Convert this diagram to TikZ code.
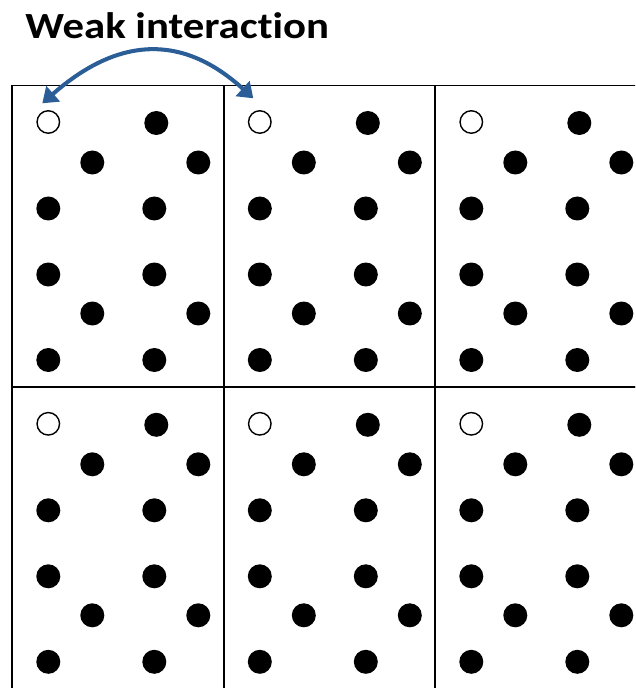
\documentclass[tikz,border=0pt]{standalone}
\usepackage{fontspec}
\setmainfont{Carlito}
\newfontfamily\titlefont{Carlito}[FakeStretch=1.16, Ligatures=NoCommon]
\usepackage{tikz}
\usetikzlibrary{arrows.meta}
\usepackage{xcolor}
\definecolor{weakblue}{HTML}{2B5E97}

\begin{document}
\begin{tikzpicture}[
    x=0.02cm, y=-0.02cm,
    dot/.style={circle, fill=black, inner sep=0pt, minimum size=0.48cm},
    hole/.style={circle, draw=black, fill=white, line width=0.8pt,
        inner sep=0pt, minimum size=0.45cm},
    cellline/.style={line width=1.1pt},
    arrow/.style={{Triangle[length=0.29cm, width=0.4cm]}-{Triangle[length=0.29cm, width=0.4cm]},
        line width=2.3pt, draw=weakblue}
]
\useasboundingbox (0,0) rectangle (635,688);
\clip (0,0) rectangle (635,688);

% --- Title ---
\node[font=\titlefont\fontsize{21}{25}\selectfont\bfseries, anchor=base west, inner sep=0pt]
    (title) at (25,38.3) {Weak interaction};

% --- Cells with atoms ---
\foreach \col/\cx in {1/12.3, 2/223.8, 3/435.3}
  \foreach \row/\cy in {1/85.5, 2/387.3} {
    \draw[cellline] (\cx,\cy) rectangle (\cx+211.5,\cy+301.8);
    \node[hole] (open-\row-\col) at (\cx+36,\cy+36.5) {};
    \foreach \dx/\dy [count=\k] in {144/37.5, 80/77, 186/77, 36/123, 142/123,
        36/189, 142/189, 80/228, 186/228, 36/274.5, 142/274.5}
      \node[dot] (dot-\row-\col-\k) at (\cx+\dx,\cy+\dy) {};
  }

% --- Arrow ---
\draw[arrow] ([shift={(-6,-18.7)}]open-1-1.center)
    .. controls (120,35) and (184,35) .. ([shift={(-6.5,-23.7)}]open-1-2.center);

\end{tikzpicture}
\end{document}
